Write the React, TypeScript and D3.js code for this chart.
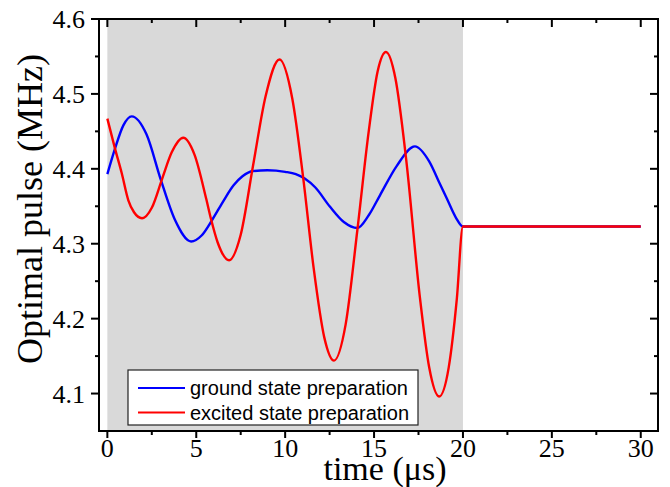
import React from "react";
import * as d3 from "d3";

const groundT = [0, 0.43, 0.9, 1.37, 2.2, 3.0, 3.8, 4.71, 5.3, 5.9, 6.5, 7.1, 7.6, 8.2, 9.0, 10.0, 10.6, 11.1, 11.7, 12.5, 13.3, 14.06, 14.7, 15.34, 16.28, 17.3, 18.1, 18.7, 19.1, 19.6, 20, 30];
const groundV = [4.393, 4.427, 4.458, 4.47, 4.446, 4.386, 4.332, 4.303, 4.311, 4.332, 4.356, 4.378, 4.39, 4.397, 4.398, 4.396, 4.393, 4.387, 4.375, 4.35, 4.329, 4.321, 4.338, 4.365, 4.404, 4.43, 4.41, 4.38, 4.36, 4.335, 4.323, 4.323];

const excitedT = [0, 0.43, 0.81, 1.18, 1.5, 1.95, 2.5, 3.1, 3.62, 4.27, 4.9, 5.56, 5.83, 6.2, 6.85, 7.5, 8.2, 8.9, 9.68, 10.4, 11.02, 11.6, 12.2, 12.75, 13.4, 14.06, 14.7, 15.2, 15.67, 16.2, 16.8, 17.58, 18.1, 18.66, 19.2, 19.65, 20, 30];
const excitedV = [4.467, 4.427, 4.394, 4.358, 4.342, 4.334, 4.348, 4.388, 4.422, 4.4415, 4.419, 4.36, 4.333, 4.302, 4.278, 4.312, 4.405, 4.497, 4.546, 4.494, 4.387, 4.268, 4.175, 4.144, 4.192, 4.318, 4.45, 4.53, 4.556, 4.521, 4.414, 4.228, 4.135, 4.096, 4.135, 4.225, 4.323, 4.323];

const xMajor = [0, 5, 10, 15, 20, 25, 30];
const xMinor = [2.5, 7.5, 12.5, 17.5, 22.5, 27.5];
const yMajor = [4.1, 4.2, 4.3, 4.4, 4.5, 4.6];
const yMinor = [4.15, 4.25, 4.35, 4.45, 4.55];
const shadedRange = [0, 20];

const seriesNames = ["ground state preparation", "excited state preparation"];
const seriesColors = ["#0000ff", "#ff0000"];

export default function App() {
  const L = 99, R = 658, T = 19, B = 431;
  const x = d3.scaleLinear().domain([-0.47, 30.97]).range([L, R]);
  const y = d3.scaleLinear().domain([4.05, 4.6]).range([B, T]);

  const line = d3
    .line<[number, number]>()
    .x((d) => x(d[0]))
    .y((d) => y(d[1]))
    .curve(d3.curveMonotoneX);

  const groundData: [number, number][] = groundT.map((t, i) => [t, groundV[i]]);
  const excitedData: [number, number][] = excitedT.map((t, i) => [t, excitedV[i]]);

  const serif = "'Liberation Serif', 'Times New Roman', serif";
  const sans = "'Liberation Sans', Arial, sans-serif";

  return (
    <svg
      width={670}
      height={487}
      style={{ position: "absolute", left: 0, top: 0, background: "#fff" }}
    >
      <clipPath id="plotclip">
        <rect x={L} y={T} width={R - L} height={B - T} />
      </clipPath>
      <rect
        x={x(shadedRange[0])}
        y={T}
        width={x(shadedRange[1]) - x(shadedRange[0])}
        height={B - T}
        fill="#d9d9d9"
      />
      <g clipPath="url(#plotclip)" fill="none" strokeWidth={2.4} strokeLinejoin="round">
        <path d={line(groundData) || ""} stroke={seriesColors[0]} />
        <path d={line(excitedData) || ""} stroke={seriesColors[1]} />
      </g>

      {/* frame */}
      <rect x={L} y={T} width={R - L} height={B - T} fill="none" stroke="#000" strokeWidth={2} />

      {/* x ticks */}
      {xMajor.map((v) => (
        <g key={"xm" + v}>
          <line x1={x(v)} x2={x(v)} y1={B} y2={B + 7} stroke="#000" strokeWidth={2} />
          <line x1={x(v)} x2={x(v)} y1={T} y2={T + 8} stroke="#000" strokeWidth={2} />
          <text
            x={x(v)}
            y={457}
            textAnchor="middle"
            fontFamily={serif}
            fontSize={26}
            fill="#000"
          >
            {v}
          </text>
        </g>
      ))}
      {xMinor.map((v) => (
        <g key={"xn" + v}>
          <line x1={x(v)} x2={x(v)} y1={B} y2={B + 4} stroke="#000" strokeWidth={2} />
          <line x1={x(v)} x2={x(v)} y1={T} y2={T + 4} stroke="#000" strokeWidth={2} />
        </g>
      ))}

      {/* y ticks */}
      {yMajor.map((v) => (
        <g key={"ym" + v}>
          <line x1={L} x2={L - 8} y1={y(v)} y2={y(v)} stroke="#000" strokeWidth={2} />
          <line x1={R} x2={R - 8} y1={y(v)} y2={y(v)} stroke="#000" strokeWidth={2} />
          <text
            x={85}
            y={y(v) + 9}
            textAnchor="end"
            fontFamily={serif}
            fontSize={26}
            fill="#000"
          >
            {v.toFixed(1)}
          </text>
        </g>
      ))}
      {yMinor.map((v) => (
        <g key={"yn" + v}>
          <line x1={L} x2={L - 4} y1={y(v)} y2={y(v)} stroke="#000" strokeWidth={2} />
          <line x1={R} x2={R - 4} y1={y(v)} y2={y(v)} stroke="#000" strokeWidth={2} />
        </g>
      ))}

      {/* axis labels */}
      <text
        x={385}
        y={480}
        textAnchor="middle"
        fontFamily={serif}
        fontSize={34}
        fill="#000"
      >
        time (μs)
      </text>
      <text
        transform={`translate(42,209) rotate(-90)`}
        textAnchor="middle"
        fontFamily={serif}
        fontSize={36}
        fill="#000"
      >
        Optimal pulse (MHz)
      </text>

      {/* legend */}
      <rect x={128} y={370} width={290} height={55} fill="#fff" stroke="#222" strokeWidth={1.2} />
      {seriesNames.map((name, i) => (
        <g key={name}>
          <line
            x1={138}
            x2={185}
            y1={388 + i * 24.5}
            y2={388 + i * 24.5}
            stroke={seriesColors[i]}
            strokeWidth={2}
          />
          <text
            x={190}
            y={388 + i * 24.5 + 7}
            fontFamily={sans}
            fontSize={20}
            fill="#000"
          >
            {name}
          </text>
        </g>
      ))}
    </svg>
  );
}
